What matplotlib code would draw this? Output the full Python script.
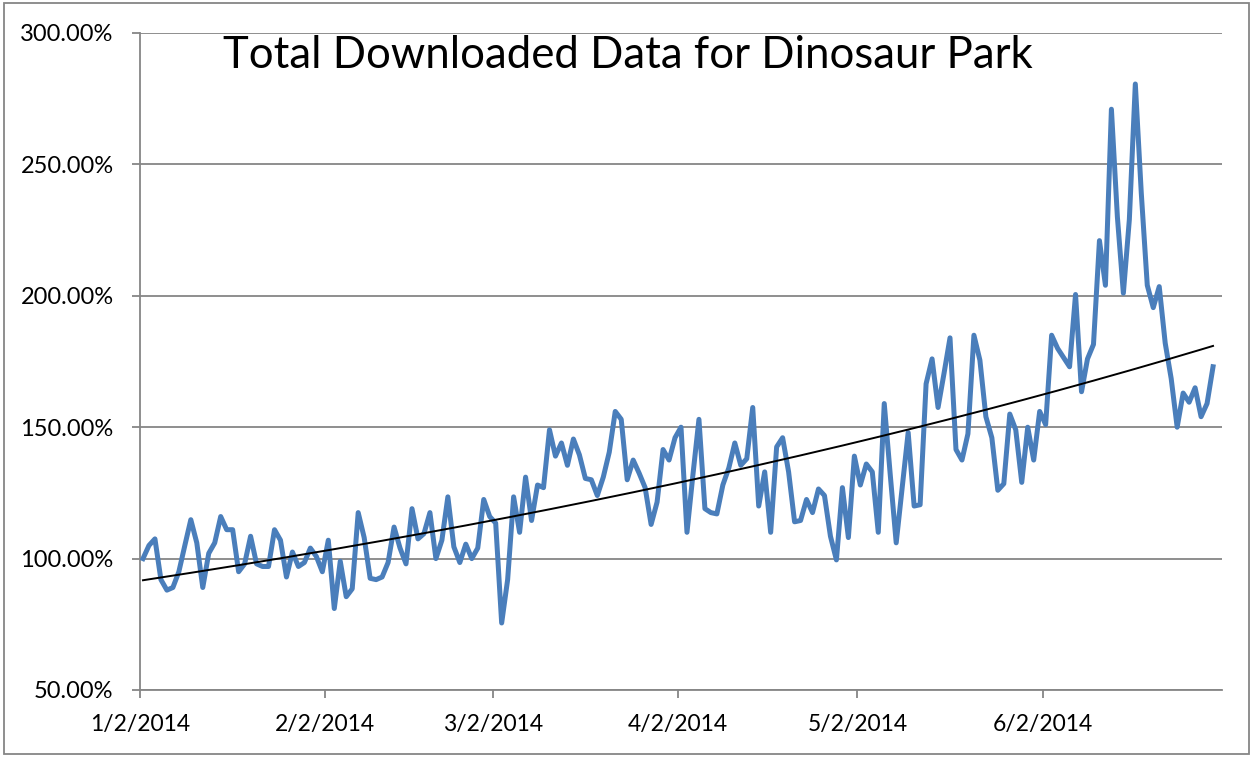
import matplotlib.pyplot as plt
import matplotlib.dates as mdates
import matplotlib.patches as patches
import numpy as np
import pandas as pd

plt.rcParams['font.family'] = ['Lato', 'DejaVu Sans']

title = 'Total Downloaded Data for Dinosaur Park'
start_date = '2014-01-02'

# daily values, percent of baseline
values = [
    100, 105, 107.5, 92, 88, 89, 95, 105, 114.8, 106, 89, 102, 106, 116, 111, 111,
    95, 98, 108.5, 98, 97, 97, 111, 107, 93, 102.5, 97, 98.5, 104, 100.8, 95, 107,
    81, 99, 85.5, 88.5, 117.5, 108, 92.5, 92, 93, 98.5, 112, 104, 98, 119, 107.5,
    109.5, 117.5, 100, 107, 123.5, 104.5, 98.5, 105.5, 100, 104, 122.5, 116, 113.5,
    75.5, 92, 123.5, 110, 131, 114.5, 128, 127, 149, 139, 144, 135.5, 145.5, 139.5,
    130.5, 130, 124, 131, 140.5, 156, 153, 130, 137.5, 132.5, 127, 113, 121.5, 141.5,
    137.5, 146, 150,
    110, 132, 153, 119, 117.5, 117, 128, 134.5, 144, 135.5, 138, 157.5, 120, 133,
    110, 142.5, 146, 133, 114, 114.5, 122.5, 117.5, 126.5, 124, 108.5, 99.5, 127,
    108, 139, 128, 136, 133, 110, 159, 132, 106, 127, 148, 120, 120.5, 166.5, 176,
    157.5, 170.5, 184, 141.5, 137.5, 147.5, 185, 175.5, 154, 146, 126, 128.5, 155,
    149, 129, 150, 137.5, 156, 151, 185, 180, 176.5, 173, 200.5, 163.5, 176, 181.5,
    221, 204, 271, 230, 201, 229, 280.6, 239, 204, 195.5, 203.5, 182, 168.5, 150,
    163, 159.5, 165, 154, 159, 173,
]

tick_dates = ['2014-01-02', '2014-02-02', '2014-03-02', '2014-04-02', '2014-05-02', '2014-06-02']
tick_labels = ['1/2/2014', '2/2/2014', '3/2/2014', '4/2/2014', '5/2/2014', '6/2/2014']
y_ticks = [50, 100, 150, 200, 250, 300]

dates = pd.date_range(start_date, periods=len(values), freq='D') + pd.Timedelta(hours=12)
y = np.array(values)

# exponential trendline, like Excel's
days = np.arange(len(y))
b, a = np.polyfit(days, np.log(y), 1)
trend = np.exp(a + b * days)

fig = plt.figure(figsize=(12.54, 7.57), dpi=100)
ax = fig.add_axes([140 / 1254, 1 - 690 / 757, 1082 / 1254, 657 / 757])

ax.plot(dates, y, color='#4a7ebb', lw=3.6, solid_joinstyle='round', zorder=3)
ax.plot(dates, trend, color='black', lw=1.4, zorder=4)

ax.set_xlim(pd.Timestamp(start_date), pd.Timestamp(start_date) + pd.Timedelta(days=181))
ax.set_ylim(50, 300)
ax.set_yticks(y_ticks)
ax.set_yticklabels(['{:.2f}%'.format(v) for v in y_ticks])
ax.set_xticks([mdates.date2num(pd.Timestamp(d)) for d in tick_dates])
ax.set_xticklabels(tick_labels)

ax.grid(axis='y', color='#868686', lw=1.3)
ax.set_axisbelow(True)
for s in ['top', 'right']:
    ax.spines[s].set_visible(False)
for s in ['left', 'bottom']:
    ax.spines[s].set_color('#868686')
    ax.spines[s].set_linewidth(1.3)
ax.tick_params(axis='y', direction='out', length=6, width=1.3, color='#868686',
               labelsize=17, pad=13)
ax.tick_params(axis='x', direction='out', length=6, width=1.3, color='#868686',
               labelsize=16.5, pad=11)

fig.text(628 / 1254, 1 - 55 / 757, title, ha='center', va='center', fontsize=31.5)

# outer chart border
fig.patches.append(patches.Rectangle((4 / 1254, 3 / 757), 1245 / 1254, 751 / 757,
                                     transform=fig.transFigure, fill=False,
                                     edgecolor='#868686', lw=1.3))

fig.savefig('out.png', dpi=100)
